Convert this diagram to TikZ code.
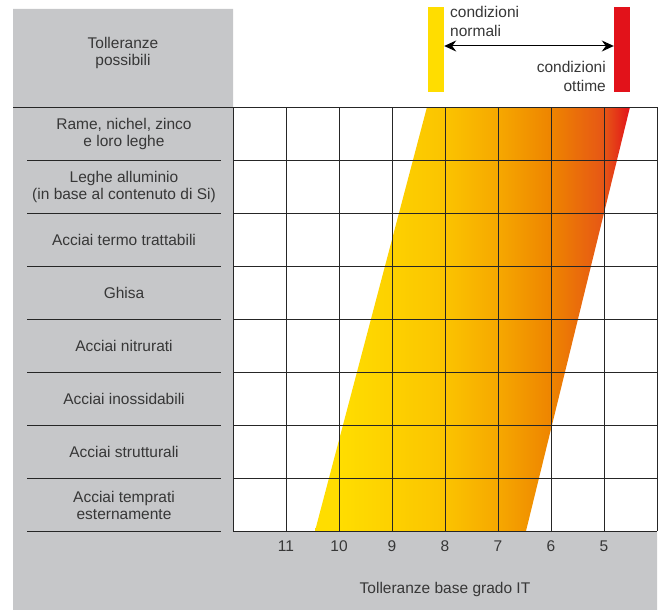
\documentclass[tikz,border=0pt]{standalone}
\usepackage{fontspec}
\setmainfont{Liberation Sans}
\usetikzlibrary{arrows.meta}

\definecolor{panelgray}{RGB}{198,199,201}
\definecolor{txtgray}{RGB}{55,55,55}
\definecolor{ityellow}{RGB}{255,221,0}
\definecolor{itred}{RGB}{226,18,26}
\definecolor{bandA}{RGB}{251,196,0}
\definecolor{bandB}{RGB}{246,168,0}
\definecolor{bandC}{RGB}{238,132,0}
\definecolor{bandD}{RGB}{230,85,22}
\pgfdeclarehorizontalshading{itband}{100bp}{color(0bp)=(ityellow); color(29bp)=(ityellow); color(45.5bp)=(bandA); color(54bp)=(bandB); color(62.5bp)=(bandC); color(71bp)=(bandD); color(75bp)=(itred); color(100bp)=(itred)}

\begin{document}
\begin{tikzpicture}[x=1pt,y=-1pt,
  gridline/.style={black!85,line width=1pt},
  lab/.style={text=txtgray,font=\fontsize{15.5}{17}\selectfont,align=center,inner sep=0pt},
  legendbar/.style={minimum width=16pt,minimum height=85pt,inner sep=0pt}]
\useasboundingbox (0,0) rectangle (659,610);
\fill[panelgray] (13,9) -- (233,9) -- (233,531) -- (657,531) -- (657,610) -- (13,610) -- cycle;
\shade[shading=itband] (315,531) -- (427,107) -- (630,107) -- (526,531) -- cycle;

\draw[gridline] (13,107) -- (657,107);
\foreach\k in {0,...,8} {
  \draw[gridline] (233+53*\k,107) -- (233+53*\k,531);
}
\foreach\j in {1,...,8} {
  \draw[gridline] (233,107+53*\j) -- (657,107+53*\j);
  \draw[gridline] (27,107+53*\j) -- (221,107+53*\j);
}

\node[lab] (corner) at (123,53) {Tolleranze\\possibili};
\foreach\m [count=\j] in {{Rame, nichel, zinco\\e loro leghe},{Leghe alluminio\\(in base al contenuto di Si)},
  Acciai termo trattabili,Ghisa,Acciai nitrurati,Acciai inossidabili,Acciai strutturali,{Acciai temprati\\esternamente}} {
  \node[lab] (mat\j) at (124,81+53*\j) {\m};
}
\foreach\g [count=\k] in {11,10,...,5} {
  \node[lab,anchor=base] (it\g) at (233+53*\k,551) {\g};
}
\node[lab,anchor=base] (axis) at (445,593) {Tolleranze base grado IT};

\node[legendbar,fill=ityellow] (normal) at (436,49.5) {};
\node[legendbar,fill=itred] (optimal) at (622,49.5) {};
\coordinate (arrowrow) at (0,46);
\draw[<->,>={Stealth[length=12pt,width=11pt,inset=4pt]},line width=1pt,black] (normal.east |- arrowrow) -- (optimal.west |- arrowrow);
\node[lab,font=\fontsize{15.5}{19}\selectfont,align=left,anchor=north west] (normaltext) at (450,6) {condizioni\\normali};
\node[lab,font=\fontsize{15.5}{19}\selectfont,align=right,anchor=north east] (optimaltext) at (606,61) {condizioni\\ottime};
\end{tikzpicture}
\end{document}
